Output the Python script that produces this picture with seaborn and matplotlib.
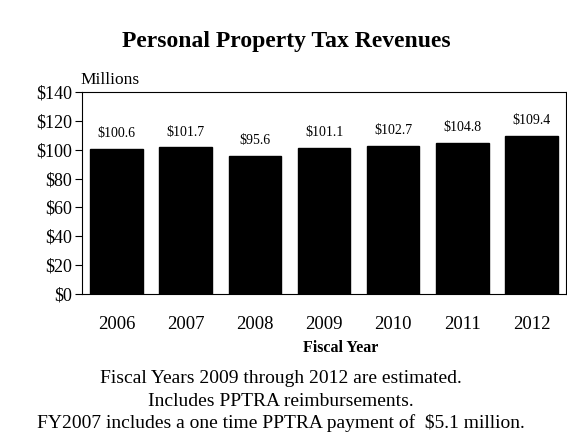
import matplotlib
matplotlib.use("Agg")
import matplotlib.pyplot as plt
import seaborn as sns
import pandas as pd
import numpy as np

years = ["2006", "2007", "2008", "2009", "2010", "2011", "2012"]
revenues = [100.6, 101.7, 95.6, 101.1, 102.7, 104.8, 109.4]
value_labels = ["$100.6", "$101.7", "$95.6", "$101.1", "$102.7", "$104.8", "$109.4"]
y_ticks = [0, 20, 40, 60, 80, 100, 120, 140]
y_tick_labels = ["$0", "$20", "$40", "$60", "$80", "$100", "$120", "$140"]
notes = [
    "Fiscal Years 2009 through 2012 are estimated.",
    "Includes PPTRA reimbursements.",
    "FY2007 includes a one time PPTRA payment of  $5.1 million.",
]

sns.set_theme(style="white")
plt.rcParams["font.family"] = ["Liberation Serif", "DejaVu Serif"]
plt.rcParams["text.color"] = "black"
plt.rcParams["xtick.color"] = "black"
plt.rcParams["ytick.color"] = "black"
plt.rcParams["axes.labelcolor"] = "black"

W, H = 567, 436
fig = plt.figure(figsize=(W / 100, H / 100), dpi=100)
ax = fig.add_axes([82 / W, 1 - 294 / H, (566 - 82) / W, (294 - 92) / H])

df = pd.DataFrame({"year": years, "revenue": revenues})
sns.barplot(data=df, x="year", y="revenue", color="black", width=0.76,
            saturation=1, ax=ax, edgecolor="black")

for i, (v, lab) in enumerate(zip(revenues, value_labels)):
    ax.text(i, v + 6, lab, ha="center", va="bottom", fontsize=10, color="black")

ax.set_xlim(-0.5, len(years) - 0.5)
ax.set_ylim(0, 140)
ax.set_yticks(y_ticks)
ax.set_yticklabels(y_tick_labels, fontsize=13)
ax.set_xticks(range(len(years)))
ax.set_xticklabels(years, fontsize=13.5)
ax.set_xticks(np.arange(0.5, len(years) - 0.5, 1), minor=True)
ax.tick_params(axis="x", which="major", length=0, pad=16)
ax.tick_params(axis="x", which="minor", length=5, width=0.8, color="black", direction="out")
ax.tick_params(axis="y", which="major", length=5, width=0.8, color="black", direction="out", pad=2, left=True)
ax.set_xlabel("")
ax.set_ylabel("")
for s in ax.spines.values():
    s.set_visible(True)
    s.set_color("black")
    s.set_linewidth(0.8)

fig.text(286 / W, 1 - 41 / H, "Personal Property Tax Revenues", ha="center", va="center",
         fontsize=17, fontweight="bold")
fig.text(80 / W, 1 - 80 / H, "Millions", ha="left", va="center", fontsize=12.5)
fig.text(341 / W, 1 - 348 / H, "Fiscal Year", ha="center", va="center", fontsize=11.5,
         fontweight="bold")
for yy, note in zip([378, 401, 423], notes):
    fig.text(281 / W, 1 - yy / H, note, ha="center", va="center", fontsize=14)

fig.savefig("out.png", dpi=100)
